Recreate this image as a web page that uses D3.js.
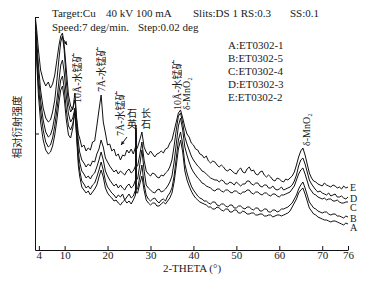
<!DOCTYPE html>
<html>
<head>
<meta charset="utf-8">
<script src="https://cdn.jsdelivr.net/npm/d3@7"></script>
<style>
  body { margin: 0; background: #fff; }
  svg { display: block; }
  text { font-family: 'Liberation Serif', 'Noto Sans CJK SC', serif; fill: #1a1a1a; }
</style>
</head>
<body>
<svg id="svg" width="367" height="286"></svg>
<script>
// 2-theta positions (deg)
const twoTheta = [
  3.2, 3.5, 3.9, 4.4, 5, 5.6, 6.2, 6.7, 7.2, 7.7, 8.2, 8.7, 9.1, 9.5, 9.9, 10.4, 10.9, 11.4, 11.9, 12.4, 12.8, 13.2,
  13.5, 14, 14.5, 15, 15.5, 16, 16.5, 17, 17.5, 18, 18.5, 19, 19.5, 20, 20.5, 21, 21.5, 22, 22.5, 23, 23.5, 24, 24.5, 25, 25.5, 26, 26.5,
  26.6, 26.7,
  27, 27.5, 28, 28.5, 29, 29.5, 30, 30.5, 31, 31.5,
  32, 32.5, 33, 33.5, 34, 34.5, 35, 35.5, 36, 36.5,
  37, 37.5, 38, 38.5, 39, 39.5, 40, 40.5, 41, 41.5,
  42, 42.5, 43, 43.5, 44, 44.5, 45, 45.5, 46, 46.5,
  47, 47.5, 48, 48.5, 49, 49.5, 50, 50.5, 51, 51.5,
  52, 52.5, 53, 53.5, 54, 54.5, 55, 55.5, 56, 56.5,
  57, 57.5, 58, 58.5, 59, 59.5, 60, 60.5, 61, 61.5,
  62, 62.5, 63, 63.5, 64, 64.5, 65, 65.5, 66, 66.5,
  67, 67.5, 68, 68.5, 69, 69.5, 70, 70.5, 71, 71.5,
  72, 72.5, 73, 73.5, 74, 74.5, 75, 75.5, 76]

// relative intensity (arbitrary units)
const seriesE = [
  232, 220, 200, 180, 170, 164, 168, 162, 166, 175, 190, 205, 214, 217, 205, 180, 155, 144, 140, 157, 132, 116,
  112, 103, 105, 99, 102, 100, 108, 109, 124, 140, 155, 128, 117, 105, 106, 99, 101, 94, 96, 90, 95, 94, 100, 97, 101, 96, 103,
  125, 100,
  103, 110, 118, 103, 98, 95, 99, 96, 93, 96,
  97, 99, 97, 101, 102, 107, 110, 119, 128, 137,
  140, 132, 123, 116, 113, 107, 105, 101, 100, 96,
  95, 92, 94, 89, 87, 89, 88, 85, 83, 85,
  83, 80, 79, 81, 79, 77, 76, 80, 82, 78,
  77, 81, 83, 79, 80, 76, 75, 78, 79, 75,
  73, 75, 73, 70, 69, 72, 71, 69, 68, 71,
  70, 72, 74, 78, 85, 93, 99, 102, 95, 86,
  77, 72, 69, 68, 66, 65, 64, 67, 65, 64,
  63, 65, 64, 62, 63, 61, 64, 62, 63]

const seriesD = [
  228, 210, 185, 160, 142, 132, 128, 130, 138, 150, 170, 192, 208, 214, 200, 168, 146, 138, 142, 150, 130, 108,
  98, 90, 87, 83, 86, 84, 89, 88, 96, 101, 110, 103, 92, 88, 84, 81, 78, 80, 76, 79, 77, 75, 79, 81, 77, 79, 84,
  122, 84,
  84, 95, 108, 90, 79, 76, 74, 77, 76, 73,
  72, 75, 74, 77, 79, 83, 90, 104, 120, 134,
  137, 127, 113, 106, 100, 94, 90, 87, 84, 82,
  79, 78, 76, 74, 72, 71, 70, 70, 68, 70,
  69, 66, 66, 68, 67, 65, 68, 66, 64, 66,
  66, 69, 69, 66, 65, 67, 67, 64, 63, 65,
  65, 62, 62, 64, 61, 60, 61, 63, 60, 61,
  62, 63, 65, 69, 75, 84, 90, 92, 86, 78,
  70, 66, 63, 60, 58, 59, 57, 56, 55, 57,
  54, 55, 56, 53, 53, 54, 52, 51, 53]

const seriesC = [
  225, 202, 175, 150, 130, 118, 113, 115, 122, 134, 150, 170, 185, 190, 178, 154, 136, 128, 132, 142, 122, 98,
  88, 79, 76, 72, 74, 71, 75, 77, 83, 90, 98, 90, 79, 74, 70, 67, 64, 66, 62, 65, 62, 60, 64, 66, 62, 64, 70,
  120, 71,
  71, 85, 100, 80, 65, 62, 60, 58, 57, 60,
  61, 58, 59, 61, 64, 68, 74, 88, 106, 124,
  132, 120, 103, 95, 88, 82, 78, 75, 72, 70,
  67, 66, 64, 63, 62, 60, 59, 61, 61, 59,
  58, 60, 60, 58, 57, 59, 59, 57, 56, 58,
  58, 60, 60, 57, 56, 58, 58, 56, 55, 57,
  57, 55, 54, 56, 56, 54, 53, 55, 55, 56,
  57, 58, 61, 64, 70, 76, 80, 82, 76, 69,
  62, 59, 56, 55, 53, 52, 51, 52, 50, 51,
  51, 49, 49, 50, 48, 47, 47, 48, 48]

const seriesB = [
  222, 195, 165, 140, 120, 108, 103, 105, 112, 124, 140, 158, 170, 174, 162, 140, 124, 120, 126, 138, 115, 90,
  80, 69, 66, 62, 64, 61, 65, 67, 73, 80, 88, 80, 69, 63, 60, 57, 55, 52, 55, 53, 56, 50, 53, 56, 52, 54, 60,
  118, 61,
  61, 73, 85, 66, 55, 51, 49, 51, 52, 49,
  47, 50, 51, 49, 54, 57, 62, 74, 92, 110,
  118, 106, 86, 77, 70, 64, 60, 57, 54, 52,
  51, 49, 49, 47, 46, 48, 48, 45, 44, 46,
  46, 44, 43, 45, 45, 42, 42, 44, 44, 42,
  41, 43, 43, 41, 40, 42, 42, 39, 39, 41,
  41, 38, 38, 40, 40, 38, 39, 41, 41, 42,
  43, 45, 47, 51, 55, 61, 65, 68, 62, 55,
  48, 45, 42, 41, 39, 38, 37, 38, 38, 36,
  35, 36, 36, 34, 34, 33, 32, 34, 33]

const seriesA = [
  218, 188, 155, 128, 110, 100, 96, 98, 104, 115, 130, 148, 160, 164, 152, 130, 115, 112, 122, 140, 112, 84,
  74, 63, 60, 57, 59, 55, 58, 61, 65, 73, 80, 73, 62, 57, 54, 52, 49, 50, 47, 45, 48, 50, 47, 49, 46, 50, 55,
  115, 57,
  57, 66, 74, 60, 50, 47, 45, 47, 47, 44,
  44, 46, 48, 46, 49, 52, 57, 68, 84, 101,
  110, 98, 79, 70, 64, 59, 55, 52, 50, 48,
  47, 46, 45, 43, 43, 41, 41, 43, 42, 40,
  39, 41, 41, 38, 38, 40, 40, 37, 37, 39,
  38, 36, 36, 37, 37, 35, 35, 36, 36, 34,
  34, 35, 35, 33, 34, 35, 35, 34, 35, 36,
  37, 39, 43, 47, 51, 57, 60, 62, 56, 49,
  42, 39, 36, 35, 33, 32, 31, 30, 30, 29,
  28, 29, 29, 28, 27, 26, 25, 27, 26]

const curveNames = ['A', 'B', 'C', 'D', 'E']
const sampleNames = ['A:ET0302-1', 'B:ET0302-5', 'C:ET0302-4', 'D:ET0302-3', 'E:ET0302-2']
const xTicks = [4, 10, 20, 30, 40, 50, 60, 70, 76]

const allSeries = [seriesA, seriesB, seriesC, seriesD, seriesE]

const margin = { top: 17, right: 19, bottom: 36, left: 35 }
const width = 367 - margin.left - margin.right
const height = 286 - margin.top - margin.bottom

const svg = d3.select('#svg')

const xScale = d3.scaleLinear()
  .domain([3.1, 76])
  .range([margin.left, margin.left + width])

const yScale = d3.scaleLinear()
  .domain([0, 233])
  .range([margin.top + height, margin.top])

const line = d3.line()
  .x(d => xScale(d[0]))
  .y(d => yScale(d[1]))

// curves
const curveGroup = svg.append('g')
curveGroup.selectAll('path')
  .data(allSeries)
  .enter()
  .append('path')
  .attr('d', s => line(s.map((v, i) => [twoTheta[i], v])))
  .attr('fill', 'none')
  .attr('stroke', '#111')
  .attr('stroke-width', 1)
  .attr('stroke-linejoin', 'round')

// axes
const bottomAxis = d3.axisBottom(xScale)
  .tickValues(xTicks)
  .tickSizeInner(-4)
  .tickSizeOuter(0)
  .tickPadding(1)

const leftAxis = d3.axisLeft(yScale)
  .tickValues([116.5, 233])
  .tickSizeInner(-4)
  .tickSizeOuter(0)
  .tickFormat('')

const xAxisG = svg.append('g')
  .attr('transform', `translate(0, ${margin.top + height})`)
  .call(bottomAxis)

svg.append('g')
  .attr('transform', `translate(${margin.left}, 0)`)
  .call(leftAxis)

svg.selectAll('.domain, .tick line').attr('stroke', '#111')
xAxisG.selectAll('text')
  .attr('font-family', "'Liberation Serif', serif")
  .attr('font-size', 11)
  .attr('fill', '#1a1a1a')

svg.append('text')
  .attr('x', 192)
  .attr('y', 272)
  .attr('text-anchor', 'middle')
  .attr('font-size', 11)
  .text('2-THETA (°)')

svg.append('text')
  .attr('transform', 'translate(21, 127) rotate(-90)')
  .attr('text-anchor', 'middle')
  .attr('font-size', 10.5)
  .attr('fill', '#444')
  .text('相对衍射强度')

// header
const header = [
  ['Target:Cu', 52, 17], ['40 kV', 106, 17], ['100 mA', 136, 17],
  ['Slits:DS 1 RS:0.3', 193, 17], ['SS:0.1', 290, 17],
  ['Speed:7 deg/min.', 52, 31], ['Step:0.02 deg', 138, 31]
]
svg.append('g').selectAll('text')
  .data(header)
  .enter()
  .append('text')
  .attr('x', d => d[1])
  .attr('y', d => d[2])
  .attr('font-size', 11)
  .text(d => d[0])

// legend
svg.append('g').selectAll('text')
  .data(sampleNames)
  .enter()
  .append('text')
  .attr('x', 228)
  .attr('y', (d, i) => 49 + i * 13)
  .attr('font-size', 11)
  .text(d => d)

// end labels
svg.append('g').selectAll('text')
  .data(curveNames)
  .enter()
  .append('text')
  .attr('x', 350)
  .attr('y', (d, i) => [231, 221.5, 211, 201.5, 191][i])
  .attr('font-size', 10)
  .text(d => d)

// peak annotations (vertical text)
const notes = [
  ['10Å-水锰矿', 81, 103],
  ['7Å-水锰矿', 105, 92],
  ['7Å-水锰矿', 124, 136],
  ['10Å-水锰矿', 181, 110],
  ['δ-MnO₂', 190, 110],
  ['δ-MnO₂', 310, 146]
]
svg.append('g').selectAll('text')
  .data(notes)
  .enter()
  .append('text')
  .attr('transform', d => `translate(${d[1]}, ${d[2]}) rotate(-90)`)
  .attr('font-size', 10)
  .text(d => d[0])

const cjk = [['石', 132, 117], ['英', 132, 127.5], ['长', 146, 117], ['石', 146, 127.5]]
svg.append('g').selectAll('text')
  .data(cjk)
  .enter()
  .append('text')
  .attr('x', d => d[1])
  .attr('y', d => d[2])
  .attr('text-anchor', 'middle')
  .attr('font-size', 10)
  .text(d => d[0])

// arrows
const arrows = [[[62, 37], [67, 45]], [[127, 137], [121, 145]]]
arrows.forEach(a => {
  svg.append('line')
    .attr('x1', a[0][0]).attr('y1', a[0][1])
    .attr('x2', a[1][0]).attr('y2', a[1][1])
    .attr('stroke', '#111')
    .attr('stroke-width', 1)
  const ang = Math.atan2(a[1][1] - a[0][1], a[1][0] - a[0][0])
  const hx = a[1][0], hy = a[1][1]
  const p1 = [hx - 4 * Math.cos(ang - 0.45), hy - 4 * Math.sin(ang - 0.45)]
  const p2 = [hx - 4 * Math.cos(ang + 0.45), hy - 4 * Math.sin(ang + 0.45)]
  svg.append('path')
    .attr('d', `M${hx},${hy}L${p1[0]},${p1[1]}L${p2[0]},${p2[1]}Z`)
    .attr('fill', '#111')
})
</script>
</body>
</html>
